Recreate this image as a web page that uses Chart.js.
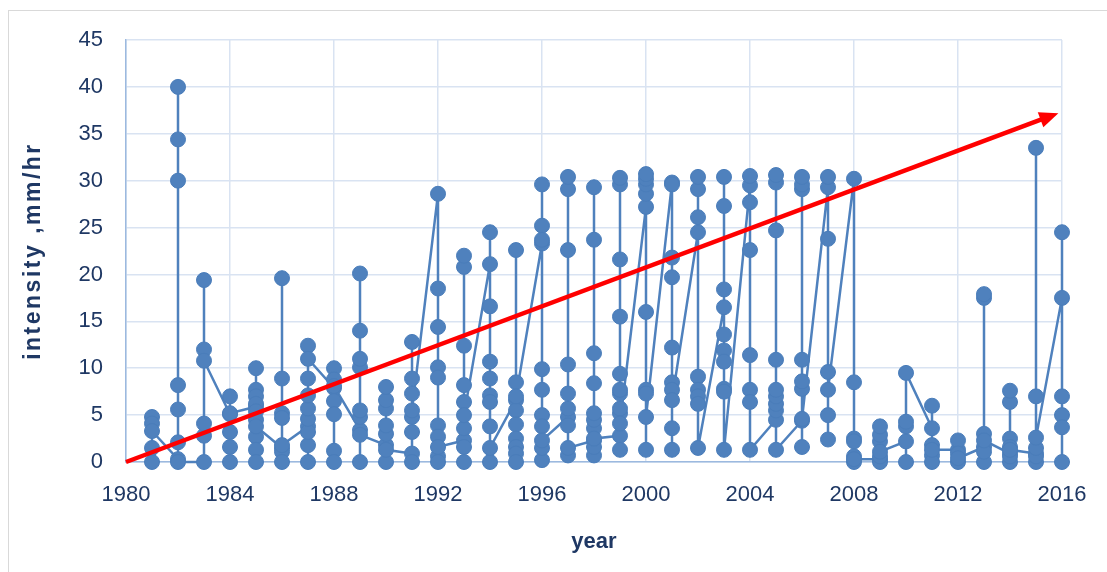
<!DOCTYPE html>
<html>
<head>
<meta charset="utf-8">
<script src="https://cdn.jsdelivr.net/npm/chart.js@4.4.1/dist/chart.umd.min.js"></script>
<style>
  html, body { margin: 0; padding: 0; background: #fff; }
  #wrap { position: relative; width: 1107px; height: 572px; overflow: hidden; }
  #frame { position: absolute; left: 8px; top: 10px; width: 1200px; height: 700px; border: 1px solid #d9d9d9; box-sizing: border-box; }
  #chart { position: absolute; left: 0; top: 0; }
</style>
</head>
<body>
<div id="wrap">
  <div id="frame"></div>
  <canvas id="chart" width="1107" height="572"></canvas>
</div>
<script>
// 연도별 강우강도 (mm/hr), 같은 해 안에서는 기록 순서대로
const years = [
  1981, 1982, 1983, 1984, 1985, 1986, 1987, 1988, 1989, 1990, 1991, 1992,
  1993, 1994, 1995, 1996, 1997, 1998, 1999, 2000, 2001, 2002, 2003, 2004,
  2005, 2006, 2007, 2008, 2009, 2010, 2011, 2012, 2013, 2014, 2015, 2016,
];
const intensity = [
  [0, 1.5, 4.8, 4.1, 3.3],
  [0.3, 2.1, 5.6, 8.2, 30.0, 34.4, 40.0, 0],
  [0, 2.8, 4.1, 19.4, 12.0, 10.8],
  [5.1, 7.0, 3.2, 1.6, 0, 5.2],
  [5.9, 10.0, 7.7, 7.0, 6.2, 5.4, 4.5, 2.7, 1.3, 0, 3.8],
  [1.5, 8.9, 19.6, 5.2, 4.7, 1.1, 0, 1.8],
  [3.8, 0, 1.8, 3.2, 4.6, 5.7, 7.1, 8.9, 12.4, 11.0],
  [7.9, 10.0, 8.8, 6.5, 5.1, 1.2, 0, 8.1],
  [3.4, 0, 4.8, 5.5, 10.1, 11.0, 14.0, 20.1, 2.9],
  [1.8, 3.0, 3.9, 5.7, 6.6, 8.0, 0, 1.3],
  [0.9, 0, 3.2, 4.8, 7.3, 8.9, 12.8, 5.5],
  [28.6, 18.5, 14.4, 10.1, 9.0, 3.9, 2.7, 0.6, 0, 1.6],
  [2.3, 0, 1.6, 3.6, 6.4, 8.2, 12.4, 20.8, 22.0, 5.0],
  [21.1, 24.5, 16.6, 10.7, 8.9, 7.1, 6.4, 3.8, 0, 1.5],
  [6.6, 8.5, 22.6, 5.5, 4.0, 2.5, 1.6, 0.9, 0, 7.0],
  [23.3, 29.6, 25.2, 23.7, 9.9, 7.7, 5.0, 3.8, 0.2, 1.5, 2.3],
  [4.8, 3.9, 5.7, 7.3, 10.4, 22.6, 29.1, 30.4, 0.7, 1.5],
  [2.3, 0.7, 1.6, 3.6, 4.5, 5.2, 8.4, 11.6, 23.7, 29.3, 2.5],
  [2.8, 1.3, 5.2, 5.7, 7.3, 7.7, 9.4, 15.5, 21.6, 29.6, 30.3, 4.1],
  [27.2, 28.6, 29.6, 30.2, 30.7, 16.0, 7.7, 7.3, 1.3, 4.8],
  [29.8, 29.6, 21.8, 19.7, 12.2, 8.5, 7.7, 3.6, 1.3, 6.6],
  [24.5, 26.1, 29.1, 30.4, 9.1, 7.7, 7.0, 6.2, 1.5],
  [16.5, 18.4, 27.3, 30.4, 13.6, 11.9, 10.7, 7.8, 7.5, 1.3],
  [29.5, 30.5, 27.7, 22.6, 11.4, 7.7, 6.4, 1.3],
  [4.5, 5.5, 6.2, 7.0, 7.7, 10.9, 24.7, 29.8, 30.6, 1.3],
  [4.4, 1.6, 7.8, 8.6, 10.9, 29.1, 29.6, 30.4, 4.6],
  [29.3, 30.4, 23.8, 9.6, 5.0, 2.4, 7.7],
  [30.2, 8.5, 2.5, 2.2, 0.6, 0, 0.3],
  [0.3, 0, 0.6, 2.2, 2.9, 3.8, 1.1],
  [2.2, 0, 3.8, 4.3, 9.5],
  [3.6, 6.0, 1.8, 0.7, 0, 1.3],
  [1.3, 2.3, 0.9, 0, 0.4],
  [1.6, 0, 1.1, 17.5, 17.9, 3.0, 2.3],
  [0.9, 0, 0.6, 2.5, 6.4, 7.6, 1.6, 1.3],
  [0.9, 0, 0.6, 1.5, 7.0, 33.5, 2.6],
  [17.5, 24.5, 7.0, 5.0, 3.7, 0],
];

// 추세 화살표 (시작점, 끝점)
const arrowX = [1980, 2015.86];
const arrowY = [0, 37.2];

// 축 눈금
const xTicks = [1980, 1984, 1988, 1992, 1996, 2000, 2004, 2008, 2012, 2016];
const yTicks = [0, 5, 10, 15, 20, 25, 30, 35, 40, 45];
const yTitle = 'intensity ,mm/hr';

const points = [];
years.forEach((yr, i) => {
  intensity[i].forEach((v) => points.push({ x: yr, y: v }));
});

const TEXT = '#1f3864';
const GRID = '#d9e3f2';
const AXIS = '#9cb9df';
const FONT = 'Liberation Sans';

// 화살표 + y축 제목 (자간이 넓어서 직접 그림)
const overlayPlugin = {
  id: 'overlayPlugin',
  afterDraw(chart) {
    const { ctx, scales: { x, y } } = chart;
    ctx.save();
    ctx.translate(34, (y.top + y.bottom) / 2);
    ctx.rotate(-Math.PI / 2);
    ctx.font = `bold 23px "${FONT}"`;
    ctx.letterSpacing = '2.5px';
    ctx.fillStyle = TEXT;
    ctx.textAlign = 'center';
    ctx.textBaseline = 'middle';
    ctx.fillText(yTitle, 0, 0);
    ctx.restore();
  },
  afterDatasetsDraw(chart) {
    const { ctx, scales: { x, y } } = chart;
    const x0 = x.getPixelForValue(arrowX[0]);
    const y0 = y.getPixelForValue(arrowY[0]);
    const x1 = x.getPixelForValue(arrowX[1]);
    const y1 = y.getPixelForValue(arrowY[1]);
    const ang = Math.atan2(y1 - y0, x1 - x0);
    const len = 19, half = 8;
    const c = Math.cos(ang), s = Math.sin(ang);
    const bx = x1 - len * c, by = y1 - len * s;
    ctx.save();
    ctx.strokeStyle = '#ff0000';
    ctx.fillStyle = '#ff0000';
    ctx.lineWidth = 4.5;
    ctx.beginPath();
    ctx.moveTo(x0, y0);
    ctx.lineTo(bx + c, by + s);
    ctx.stroke();
    ctx.beginPath();
    ctx.moveTo(x1, y1);
    ctx.lineTo(bx - half * s, by + half * c);
    ctx.lineTo(bx + half * s, by - half * c);
    ctx.closePath();
    ctx.fill();
    ctx.restore();
  },
};

new Chart(document.getElementById('chart').getContext('2d'), {
  type: 'scatter',
  data: {
    datasets: [
      {
        label: 'intensity',
        data: points,
        showLine: true,
        borderColor: '#4f81bd',
        borderWidth: 2.5,
        backgroundColor: '#4f81bd',
        pointBorderColor: '#4a7dba',
        pointBorderWidth: 1,
        pointRadius: 7.5,
        clip: false,
      },
    ],
  },
  options: {
    responsive: false,
    animation: false,
    layout: { padding: { top: 40, right: 45, bottom: 0, left: 0 } },
    plugins: {
      legend: { display: false },
      tooltip: { enabled: false },
    },
    scales: {
      x: {
        type: 'linear',
        min: 1980,
        max: 2016,
        afterBuildTicks: (s) => { s.ticks = xTicks.map((v) => ({ value: v })); },
        afterFit: (s) => { s.height = 110; },
        ticks: {
          padding: 20,
          color: TEXT,
          font: { family: FONT, size: 22 },
          callback: (v) => String(v),
          maxRotation: 0,
        },
        grid: { color: GRID, lineWidth: 1.5, drawTicks: false },
        border: { color: AXIS, width: 1.5 },
        title: {
          display: true,
          text: 'year',
          color: TEXT,
          font: { family: FONT, size: 22, weight: 'bold' },
          padding: { top: 0, bottom: 17 },
        },
      },
      y: {
        min: 0,
        max: 45,
        afterBuildTicks: (s) => { s.ticks = yTicks.map((v) => ({ value: v })); },
        afterFit: (s) => { s.width = 126; },
        ticks: {
          padding: 23,
          color: TEXT,
          font: { family: FONT, size: 22 },
        },
        grid: { color: GRID, lineWidth: 1.5, drawTicks: false },
        border: { color: AXIS, width: 1.5 },
      },
    },
  },
  plugins: [overlayPlugin],
});
</script>
</body>
</html>
